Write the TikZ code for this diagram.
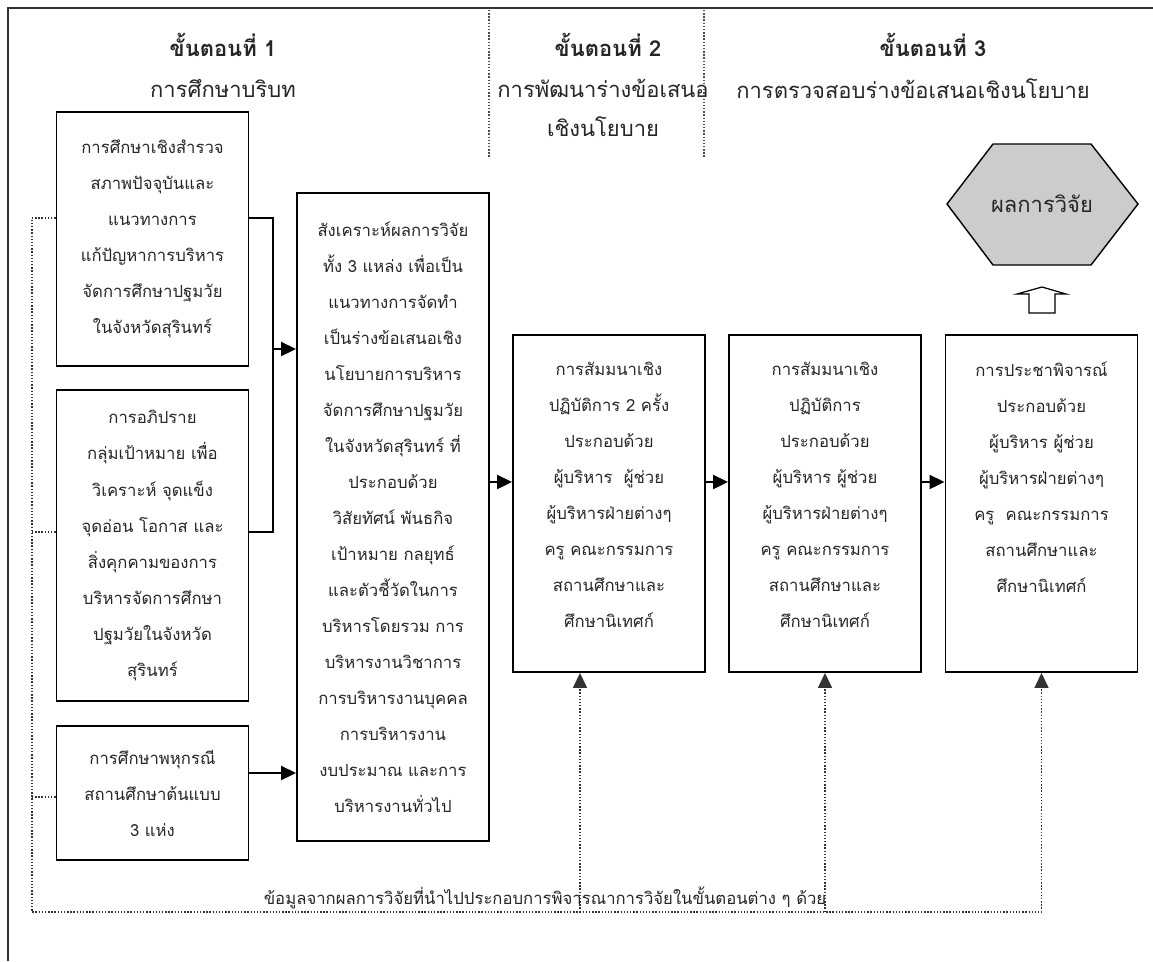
\documentclass[tikz,border=0pt]{standalone}
\usepackage{fontspec}
\newfontfamily\thaifont[Script=Thai]{Loma}
\usetikzlibrary{arrows.meta}

\begin{document}
\begin{tikzpicture}[x=0.02cm, y=-0.02cm,
   txt/.style={font=\thaifont\fontsize{9.5}{20.5}\selectfont, align=center, inner sep=0pt, text=black!85},
   box/.style={txt, draw=black, line width=1.1pt, minimum width=3.84cm},
   head/.style={font=\thaifont\bfseries\fontsize{12.5}{15}\selectfont, inner sep=0pt, text=black!85},
   sub/.style={font=\thaifont\fontsize{12.5}{22.2}\selectfont, align=center, inner sep=0pt, text=black!85},
   arr/.style={line width=1.1pt, -{Triangle[length=3mm, width=2.8mm]}},
   fb/.style={densely dotted, line width=0.8pt, black!80},
   fbarr/.style={fb, -{Triangle[length=3mm, width=2.8mm]}},
   sep/.style={densely dotted, line width=0.8pt, black!70}
]
   \useasboundingbox (0,0) rectangle (1153,961);
   \draw[line width=1.2pt, black!80] (8,961) -- (8,8) -- (1153,8);

   \node[head] (h1) at (223,45) {ขั้นตอนที่ 1};
   \node[sub] (s1) at (223,89) {การศึกษาบริบท};
   \node[head] (h2) at (608,45) {ขั้นตอนที่ 2};
   \node[sub] (s2) at (603,108) {การพัฒนาร่างข้อเสนอ\\เชิงนโยบาย};
   \node[head] (h3) at (933,45) {ขั้นตอนที่ 3};
   \node[sub] (s3) at (913,89) {การตรวจสอบร่างข้อเสนอเชิงนโยบาย};

   \draw[sep] (489,10) -- (489,157);
   \draw[sep] (704,10) -- (704,157);

   \node[box, minimum height=5.08cm] (b1) at (152.5,239)
      {การศึกษาเชิงสำรวจ\\สภาพปัจจุบันและ\\แนวทางการ\\แก้ปัญหาการบริหาร\\จัดการศึกษาปฐมวัย\\ในจังหวัดสุรินทร์};
   \node[box, minimum height=6.22cm] (b2) at (152.5,545.5)
      {การอภิปราย\\กลุ่มเป้าหมาย เพื่อ\\วิเคราะห์ จุดแข็ง\\จุดอ่อน โอกาส และ\\สิ่งคุกคามของการ\\บริหารจัดการศึกษา\\ปฐมวัยในจังหวัด\\สุรินทร์};
   \node[box, minimum height=2.68cm] (b3) at (152.5,793)
      {การศึกษาพหุกรณี\\สถานศึกษาต้นแบบ\\3 แห่ง};

   \node[box, minimum height=12.96cm] (mid) at (393,517)
      {สังเคราะห์ผลการวิจัย\\ทั้ง 3 แหล่ง เพื่อเป็น\\แนวทางการจัดทำ\\เป็นร่างข้อเสนอเชิง\\นโยบายการบริหาร\\จัดการศึกษาปฐมวัย\\ในจังหวัดสุรินทร์ ที่\\ประกอบด้วย\\วิสัยทัศน์ พันธกิจ\\เป้าหมาย กลยุทธ์\\และตัวชี้วัดในการ\\บริหารโดยรวม การ\\บริหารงานวิชาการ\\การบริหารงานบุคคล\\การบริหารงาน\\งบประมาณ และการ\\บริหารงานทั่วไป};

   \node[box, minimum height=6.74cm] (b4) at (609,503.5) {};
   \node[box, minimum height=6.74cm] (b5) at (825,503.5) {};
   \node[box, minimum height=6.74cm] (b6) at (1041.5,503.5) {};
   \node[txt, anchor=north] (t4) at ([yshift=-0.55cm]b4.north)
      {การสัมมนาเชิง\\ปฏิบัติการ 2 ครั้ง\\ประกอบด้วย\\ผู้บริหาร \ ผู้ช่วย\\ผู้บริหารฝ่ายต่างๆ\\ครู คณะกรรมการ\\สถานศึกษาและ\\ศึกษานิเทศก์};
   \node[txt, anchor=north] (t5) at ([yshift=-0.55cm]b5.north)
      {การสัมมนาเชิง\\ปฏิบัติการ\\ประกอบด้วย\\ผู้บริหาร ผู้ช่วย\\ผู้บริหารฝ่ายต่างๆ\\ครู คณะกรรมการ\\สถานศึกษาและ\\ศึกษานิเทศก์};
   \node[txt, anchor=north] (t6) at ([yshift=-0.55cm]b6.north)
      {การประชาพิจารณ์\\ประกอบด้วย\\ผู้บริหาร ผู้ช่วย\\ผู้บริหารฝ่ายต่างๆ\\ครู \ คณะกรรมการ\\สถานศึกษาและ\\ศึกษานิเทศก์};

   \draw[fill=black!20, line width=0.8pt] (947,204) -- (993,144) -- (1091,144)
      -- (1138,204) -- (1091,265) -- (993,265) -- cycle;
   \node[sub] (res) at (1042,204) {ผลการวิจัย};
   \draw[line width=0.7pt, fill=white] (1029,313) -- (1029,294) -- (1017,294) -- (1042,287)
      -- (1066,294) -- (1055,294) -- (1055,313) -- cycle;

   \coordinate (k1) at (273,218);
   \coordinate (k2) at (273,532);
   \coordinate (j) at (273,349);
   \coordinate (k3) at (273,773);
   \coordinate (k4) at (0,482);
   \draw[line width=1.1pt] (b1.east |- k1) -- (k1) -- (k2) -- (b2.east |- k2);
   \draw[arr] (j) -- (mid.west |- j);
   \draw[arr] (b3.east |- k3) -- (mid.west |- k3);
   \draw[arr] (mid.east |- k4) -- (b4.west |- k4);
   \draw[arr] (b4.east |- k4) -- (b5.west |- k4);
   \draw[arr] (b5.east |- k4) -- (b6.west |- k4);

   \coordinate (d1) at (32,218);
   \coordinate (d2) at (32,532);
   \coordinate (d3) at (32,797);
   \coordinate (d0) at (32,912);
   \coordinate (u4) at (580,912);
   \coordinate (u5) at (825,912);
   \coordinate (u6) at (1041.5,912);
   \draw[fb] (b1.west |- d1) -- (d1) -- (d0) -- (u6);
   \draw[fb] (d2) -- (b2.west |- d2);
   \draw[fb] (d3) -- (b3.west |- d3);
   \draw[fbarr] (u4) -- (u4 |- b4.south);
   \draw[fbarr] (u5) -- (u5 |- b5.south);
   \draw[fbarr] (u6) -- (u6 |- b6.south);

   \node[txt] (note) at (545,898)
      {ข้อมูลจากผลการวิจัยที่นำไปประกอบการพิจารณาการวิจัยในขั้นตอนต่าง ๆ ด้วย};
\end{tikzpicture}
\end{document}
